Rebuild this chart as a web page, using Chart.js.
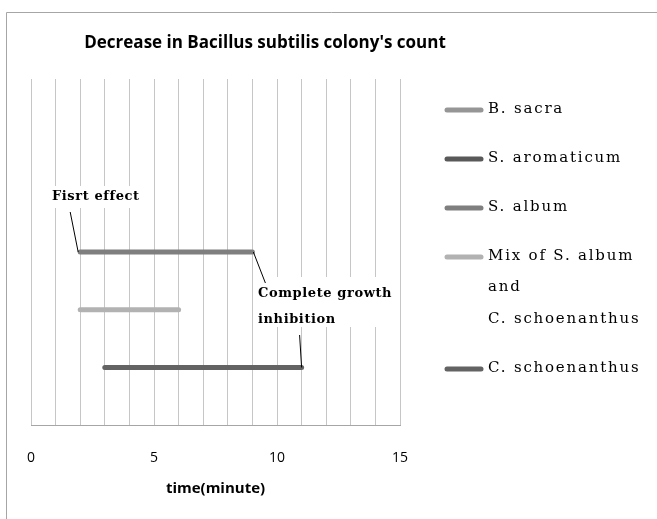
<!DOCTYPE html>
<html>
<head>
<meta charset="utf-8">
<title>Decrease in Bacillus subtilis colony's count</title>
<script src="https://cdn.jsdelivr.net/npm/chart.js@4/dist/chart.umd.min.js"></script>
<style>
  html, body { margin: 0; padding: 0; background: #fff; }
  canvas { display: block; }
</style>
</head>
<body>
<canvas id="main-chart" width="657" height="519"></canvas>
<script>
// ── Data ──────────────────────────────────────────────────────────────────────
const seriesNames = ["B. sacra", "S. aromaticum", "S. album", "Mix of S. album and C. schoenanthus", "C. schoenanthus"];
const legendLines = [["B. sacra"], ["S. aromaticum"], ["S. album"], ["Mix of S. album", "and", "C. schoenanthus"], ["C. schoenanthus"]];
const startTimes  = [null, null, 2, 2, 3];     // minute of first effect
const endTimes    = [null, null, 9, 6, 11];    // minute of complete inhibition
const levels      = [null, null, 3, 2, 1];     // row height on hidden y axis
const colors      = ["#969696", "#595959", "#7f7f7f", "#b2b2b2", "#636363"];
const xTickLabels = [0, 5, 10, 15];

const TITLE = "Decrease in Bacillus subtilis colony's count";
const NOTE_FIRST = ["Fisrt effect"];
const NOTE_DONE  = ["Complete growth", "inhibition"];

// ── Plugins ───────────────────────────────────────────────────────────────────
const frame = {
  id: "frame",
  beforeDraw(chart) {
    const c = chart.ctx;
    c.save();
    c.fillStyle = "#fff";
    c.fillRect(0, 0, chart.width, chart.height);
    c.strokeStyle = "#a6a6a6";
    c.lineWidth = 1;
    c.beginPath();
    c.moveTo(6.5, chart.height);
    c.lineTo(6.5, 12.5);
    c.lineTo(chart.width, 12.5);
    c.stroke();
    c.fillStyle = "#000";
    c.font = "bold 17px 'Open Sans'";
    c.textAlign = "center";
    c.textBaseline = "middle";
    c.fillText(TITLE, 265, 43);
    c.restore();
  },
};

function noteBox(c, lines, x, y, lh) {
  c.font = "bold 13px 'DejaVu Serif'";
  c.letterSpacing = "0.6px";
  c.textAlign = "left";
  c.textBaseline = "middle";
  lines.forEach((t, i) => c.fillText(t, x, y + i * lh));
}

const notes = {
  id: "notes",
  beforeDatasetsDraw(chart) {
    // white boxes behind the notes hide the grid
    const c = chart.ctx, xs = chart.scales.x;
    c.save();
    c.fillStyle = "#fff";
    c.fillRect(xs.getPixelForValue(startTimes[2]) - 33, 186, 98, 22);
    c.fillRect(xs.getPixelForValue(endTimes[2]) + 3, 277, 140, 50);
    c.restore();
  },
  afterDatasetsDraw(chart) {
    const c = chart.ctx, xs = chart.scales.x, ys = chart.scales.y;
    const x0 = xs.getPixelForValue(startTimes[2]), y0 = ys.getPixelForValue(levels[2]);
    const x1 = xs.getPixelForValue(endTimes[2]);
    const x2 = xs.getPixelForValue(endTimes[4]), y2 = ys.getPixelForValue(levels[4]);
    c.save();
    c.strokeStyle = "#000";
    c.lineWidth = 1;
    c.beginPath();
    c.moveTo(x0 - 10, 212); c.lineTo(x0 - 2, y0);
    c.moveTo(x1 + 1, y0);   c.lineTo(x1 + 13, 283);
    c.moveTo(x2 - 2, 335);  c.lineTo(x2, y2);
    c.stroke();
    c.fillStyle = "#000";
    noteBox(c, NOTE_FIRST, 52, 197, 26);
    noteBox(c, NOTE_DONE, 258, 294, 26);
    c.restore();
  },
};

const sideLegend = {
  id: "sideLegend",
  afterDraw(chart) {
    const c = chart.ctx;
    c.save();
    c.font = "15px 'DejaVu Serif'";
    c.letterSpacing = "1.8px";
    c.textAlign = "left";
    c.textBaseline = "middle";
    c.lineCap = "round";
    let y = 109;
    chart.data.datasets.forEach((ds, i) => {
      c.strokeStyle = ds.borderColor;
      c.lineWidth = 5;
      c.beginPath();
      c.moveTo(447, y + 1);
      c.lineTo(481, y + 1);
      c.stroke();
      c.fillStyle = "#000";
      legendLines[i].forEach((t, k) => c.fillText(t, 488, y + k * 31.5));
      y += (legendLines[i].length - 1) * 31.5 + 49;
    });
    c.restore();
  },
};

// ── Chart ─────────────────────────────────────────────────────────────────────
new Chart(document.getElementById("main-chart"), {
  type: "scatter",
  data: {
    datasets: seriesNames.map((name, i) => ({
      label: name,
      data: startTimes[i] === null ? [] : [
        { x: startTimes[i], y: levels[i] },
        { x: endTimes[i],   y: levels[i] },
      ],
      showLine: true,
      borderColor: colors[i],
      backgroundColor: colors[i],
      borderWidth: 5,
      borderCapStyle: "round",
      pointRadius: 0,
      pointHoverRadius: 0,
    })),
  },
  options: {
    responsive: false,
    animation: false,
    devicePixelRatio: 1,
    layout: { padding: { left: 31, right: 257, top: 79, bottom: 21 } },
    plugins: { legend: { display: false }, tooltip: { enabled: false }, title: { display: false } },
    scales: {
      x: {
        type: "linear",
        min: 0, max: 15,
        ticks: {
          stepSize: 1,
          padding: 24,
          color: "#000",
          font: { family: "'Open Sans'", size: 14 },
          callback: v => xTickLabels.includes(v) ? String(v) : "",
          maxRotation: 0,
          autoSkip: false,
        },
        grid: { color: "#c6c6c6", drawTicks: false },
        border: { color: "#a6a6a6" },
        title: {
          display: true,
          text: "time(minute)",
          color: "#000",
          font: { family: "'Open Sans'", size: 15, weight: "bold" },
          padding: { top: -10, bottom: 0 },
        },
      },
      y: { display: false, min: 0, max: 6 },
    },
  },
  plugins: [frame, notes, sideLegend],
});
</script>
</body>
</html>
